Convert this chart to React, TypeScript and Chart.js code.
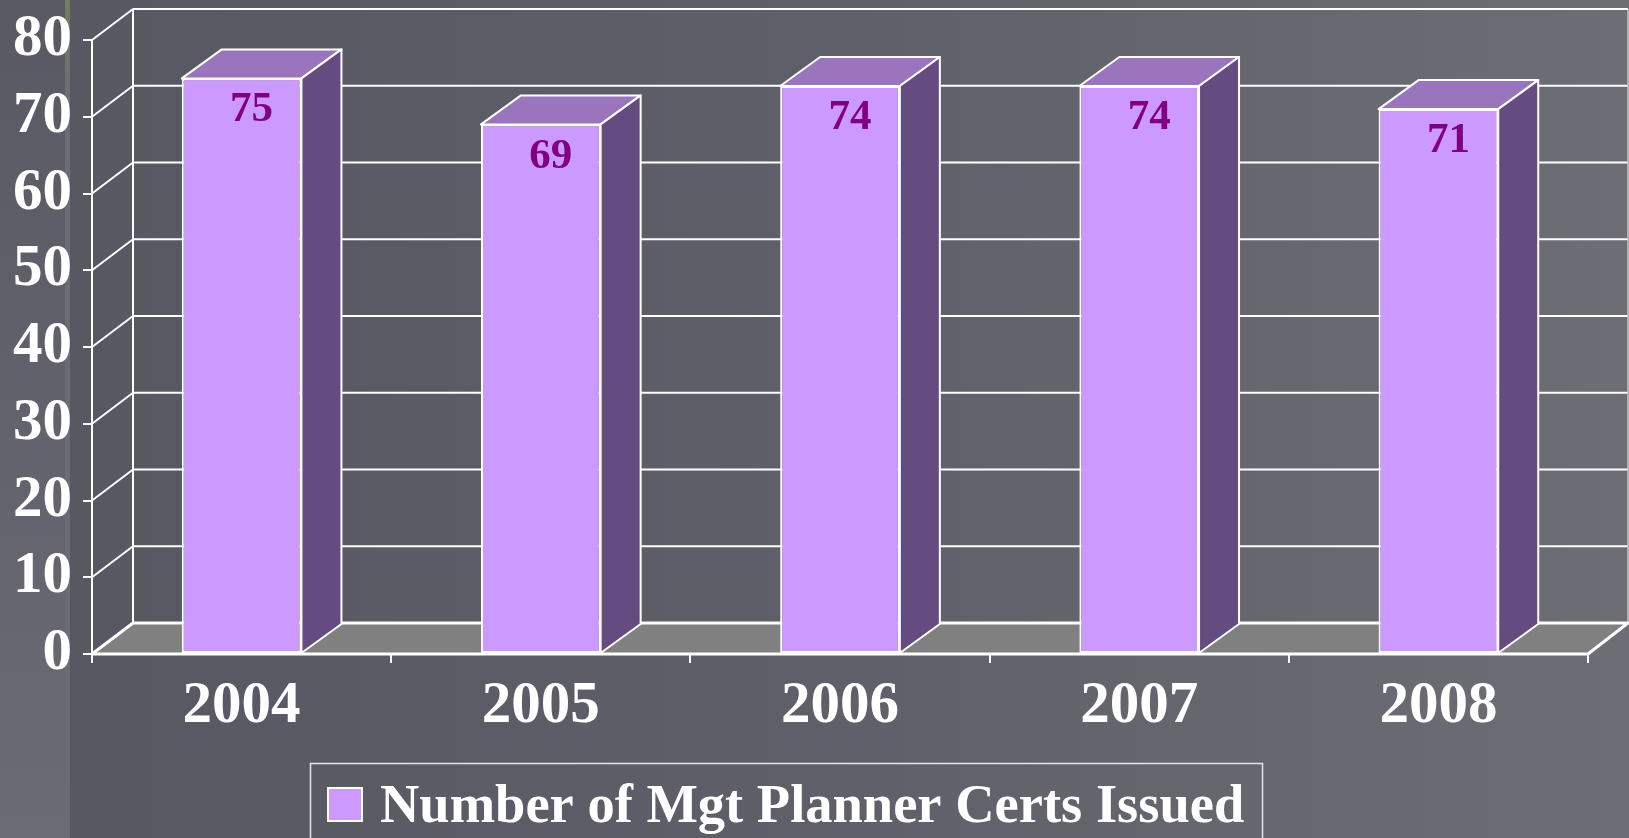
import React, { useEffect, useRef } from 'react';
import { Chart, registerables } from 'chart.js';

Chart.register(...registerables);

// ---- Data ----
const categories: string[] = ['2004', '2005', '2006', '2007', '2008'];
const certsIssued: number[] = [75, 69, 74, 74, 71];
const seriesLabel = 'Number of Mgt Planner Certs Issued';
const yMin = 0;
const yMax = 80;
const yStep = 10;

// ---- Style ----
const FONT = '"Liberation Serif", "Times New Roman", serif';
const FRONT = '#cc99ff';
const TOP = '#9b74be';
const SIDE = '#654c80';
const FLOOR = '#808080';
const LABEL_COLOR = '#800080';
const WALL_DX = 41;
const WALL_DY = -31;
const BAR_DX = 40;
const BAR_DY = -29;

function line(ctx: CanvasRenderingContext2D, x1: number, y1: number, x2: number, y2: number) {
  ctx.beginPath();
  ctx.moveTo(x1, y1);
  ctx.lineTo(x2, y2);
  ctx.stroke();
}

function poly(ctx: CanvasRenderingContext2D, pts: number[][], fill: string) {
  ctx.beginPath();
  ctx.moveTo(pts[0][0], pts[0][1]);
  for (let i = 1; i < pts.length; i++) ctx.lineTo(pts[i][0], pts[i][1]);
  ctx.closePath();
  ctx.fillStyle = fill;
  ctx.fill();
  ctx.stroke();
}

const threeDPlugin = {
  id: 'threeD',
  beforeDraw(chart: any) {
    const { ctx, width, height } = chart;
    ctx.save();
    const g = ctx.createLinearGradient(0, 0, width, 0);
    g.addColorStop(0, '#575761');
    g.addColorStop(0.5, '#5f5f69');
    g.addColorStop(1, '#6d6d75');
    ctx.fillStyle = g;
    ctx.fillRect(0, 0, width, height);
    const band = ctx.createLinearGradient(0, 0, 0, height);
    band.addColorStop(0, '#595963');
    band.addColorStop(1, '#6b6b75');
    ctx.fillStyle = band;
    ctx.fillRect(0, 0, 65, height);
    const stripe = ctx.createLinearGradient(0, 0, 0, height);
    stripe.addColorStop(0, '#708062');
    stripe.addColorStop(0.05, '#6e7868');
    stripe.addColorStop(0.12, '#6c6c76');
    stripe.addColorStop(1, '#6b6b75');
    ctx.fillStyle = stripe;
    ctx.fillRect(65, 0, 5, height);
    ctx.restore();
  },
  beforeDatasetsDraw(chart: any) {
    const { ctx, chartArea } = chart;
    const { left, right, top, bottom } = chartArea;
    const y = chart.scales.y;
    ctx.save();
    ctx.strokeStyle = '#ffffff';
    ctx.lineWidth = 2;
    ctx.lineJoin = 'round';
    const rx = Math.min(right + WALL_DX, chart.width - 1);
    y.ticks.forEach((t: any) => {
      const py = y.getPixelForValue(t.value);
      line(ctx, left, py, left + WALL_DX, py + WALL_DY);
      line(ctx, left + WALL_DX, py + WALL_DY, rx, py + WALL_DY);
    });
    line(ctx, left + WALL_DX, top + WALL_DY, left + WALL_DX, bottom + WALL_DY);
    ctx.strokeStyle = '#c8c8cc';
    ctx.lineWidth = 1.5;
    line(ctx, rx, top + WALL_DY, rx, bottom + WALL_DY);
    // floor
    ctx.strokeStyle = '#ffffff';
    ctx.lineWidth = 3;
    poly(ctx, [
      [left, bottom],
      [right, bottom],
      [rx, bottom + WALL_DY],
      [left + WALL_DX, bottom + WALL_DY],
    ], FLOOR);
    ctx.restore();
  },
  afterDatasetsDraw(chart: any) {
    const { ctx } = chart;
    const meta = chart.getDatasetMeta(0);
    const data = chart.data.datasets[0].data;
    ctx.save();
    ctx.strokeStyle = '#ffffff';
    ctx.lineWidth = 2;
    ctx.lineJoin = 'round';
    meta.data.forEach((bar: any, i: number) => {
      const { x, y, base, width } = bar.getProps(['x', 'y', 'base', 'width'], true);
      const xL = x - width / 2;
      const xR = x + width / 2;
      poly(ctx, [
        [xL, y],
        [xL + BAR_DX, y + BAR_DY],
        [xR + BAR_DX, y + BAR_DY],
        [xR, y],
      ], TOP);
      poly(ctx, [
        [xR, y],
        [xR + BAR_DX, y + BAR_DY],
        [xR + BAR_DX, base + BAR_DY],
        [xR, base],
      ], SIDE);
      ctx.fillStyle = LABEL_COLOR;
      ctx.font = `bold 43px ${FONT}`;
      ctx.textAlign = 'center';
      ctx.textBaseline = 'middle';
      ctx.fillText(String(data[i]), x + 10, y + 32);
    });
    ctx.restore();
  },
  afterDraw(chart: any) {
    const { ctx } = chart;
    ctx.save();
    ctx.strokeStyle = '#e6e6ea';
    ctx.lineWidth = 1.5;
    ctx.strokeRect(310.5, 763.5, 952, 120);
    ctx.fillStyle = FRONT;
    ctx.fillRect(328, 788, 34, 33);
    ctx.strokeStyle = '#ffffff';
    ctx.lineWidth = 2;
    ctx.strokeRect(328, 788, 34, 33);
    ctx.fillStyle = '#ffffff';
    ctx.font = `bold 54.5px ${FONT}`;
    ctx.textAlign = 'left';
    ctx.textBaseline = 'alphabetic';
    ctx.fillText(chart.data.datasets[0].label, 380, 822);
    ctx.restore();
  },
};

export default function App() {
  const canvasRef = useRef<HTMLCanvasElement | null>(null);

  useEffect(() => {
    const canvas = canvasRef.current;
    if (!canvas) return;
    const chart = new Chart(canvas, {
      type: 'bar',
      data: {
        labels: categories,
        datasets: [
          {
            label: seriesLabel,
            data: certsIssued,
            backgroundColor: FRONT,
            borderColor: '#ffffff',
            borderWidth: 2,
            borderSkipped: false,
            barPercentage: 0.4,
            categoryPercentage: 1,
          },
        ],
      },
      options: {
        responsive: false,
        animation: false,
        devicePixelRatio: 1,
        layout: { padding: { top: 40, right: 41, left: 0, bottom: 0 } },
        plugins: {
          legend: { display: false },
          tooltip: { enabled: false },
        },
        scales: {
          x: {
            type: 'category',
            afterFit: (s: any) => {
              s.height = 184;
              s.paddingLeft = 0;
              s.paddingRight = 0;
            },
            grid: {
              display: true,
              offset: true,
              drawOnChartArea: false,
              drawTicks: true,
              tickLength: 9,
              color: '#ffffff',
              lineWidth: 2,
            },
            border: { display: true, color: '#ffffff', width: 2 },
            ticks: {
              color: '#ffffff',
              font: { family: FONT, size: 59, weight: 'bold' },
              padding: 8,
              maxRotation: 0,
              autoSkip: false,
            },
          },
          y: {
            min: yMin,
            max: yMax,
            afterFit: (s: any) => {
              s.width = 92;
              s.paddingTop = 0;
              s.paddingBottom = 0;
            },
            grid: {
              display: true,
              drawOnChartArea: false,
              drawTicks: true,
              tickLength: 9,
              color: '#ffffff',
              lineWidth: 2,
            },
            border: { display: true, color: '#ffffff', width: 2 },
            ticks: {
              stepSize: yStep,
              color: '#ffffff',
              font: { family: FONT, size: 59, weight: 'bold' },
              padding: 11,
            },
          },
        },
      },
      plugins: [threeDPlugin],
    });
    return () => chart.destroy();
  }, []);

  return (
    <div style={{ position: 'fixed', left: 0, top: 0, width: 1629, height: 838 }}>
      <canvas ref={canvasRef} width={1629} height={838} style={{ display: 'block' }} />
    </div>
  );
}
